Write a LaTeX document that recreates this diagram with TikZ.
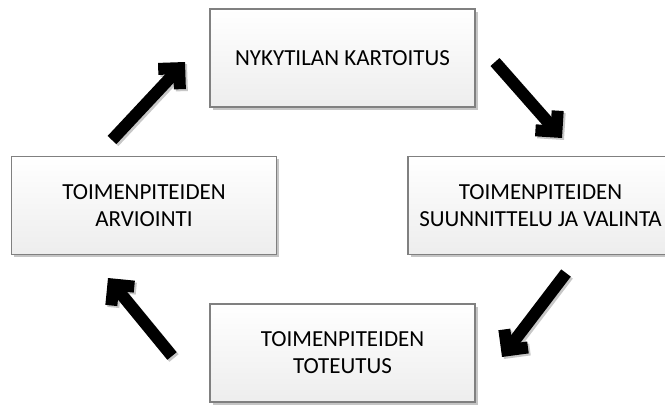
\documentclass[tikz,border=0pt]{standalone}
\usepackage{fontspec}
\setmainfont{Carlito}
\usetikzlibrary{calc,shadows}

\tikzset{
  stage/.style={
    draw=black!50, line width=1.2pt,
    top color=white, bottom color=black!7,
    minimum width=265pt, minimum height=98pt,
    inner sep=0pt, align=center, text=black,
    font=\fontsize{23}{27}\selectfont,
    drop shadow={shadow xshift=2.5pt, shadow yshift=-2.5pt, fill=black!45, opacity=0.5}
  },
  arrowline/.style={line width=12pt, line cap=butt},
}

% thick block arrow: shaft from tail to the chevron vertex, then a right-angled chevron
\newcommand\cyclearrowpath[3]{%
  \draw[arrowline, draw=#3] (#1) -- (#2);
  \draw[arrowline, draw=#3, line join=miter]
    ($(#2)!21pt!45:(#1)$) -- (#2) -- ($(#2)!21pt!-45:(#1)$);
}
\newcommand\cyclearrow[2]{%
  \coordinate (#2v) at ($(#2)!8.5pt!(#1)$);
  \begin{scope}[transform canvas={xshift=2pt,yshift=-2pt}]
    \cyclearrowpath{#1}{#2v}{black!22}
  \end{scope}
  \cyclearrowpath{#1}{#2v}{black}
}

\begin{document}
\begin{tikzpicture}[x=1pt, y=-1pt]
  \useasboundingbox (0,0) rectangle (665,408);
  \clip (0,0) rectangle (665,408);
  \fill[white] (0,0) rectangle (665,408);

  % the four stages of the cycle
  \node[stage] (kartoitus) at (342.5,58)  {NYKYTILAN KARTOITUS};
  \node[stage] (valinta)   at (540.5,205.5) {TOIMENPITEIDEN\\SUUNNITTELU JA VALINTA};
  \node[stage] (toteutus)  at (342.5,353) {TOIMENPITEIDEN\\TOTEUTUS};
  \node[stage] (arviointi) at (144,205.5) {TOIMENPITEIDEN\\ARVIOINTI};

  % arrow end points (tail, outer tip)
  \coordinate (trTail) at (495,62);  \coordinate (trTip) at (562,138);
  \coordinate (brTail) at (566,273); \coordinate (brTip) at (502,357);
  \coordinate (blTail) at (172,356); \coordinate (blTip) at (108,278);
  \coordinate (tlTail) at (112,140); \coordinate (tlTip) at (185,62);

  \cyclearrow{trTail}{trTip}
  \cyclearrow{brTail}{brTip}
  \cyclearrow{blTail}{blTip}
  \cyclearrow{tlTail}{tlTip}
\end{tikzpicture}
\end{document}
